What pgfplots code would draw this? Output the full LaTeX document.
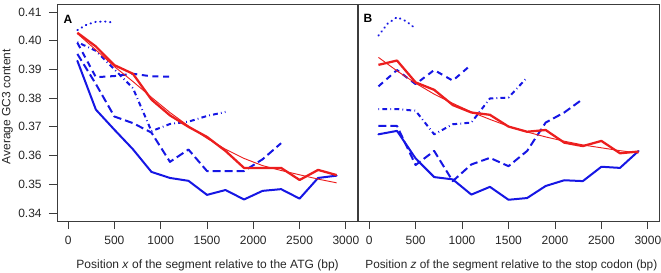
\documentclass[border=0pt]{standalone}
\usepackage{pgfplots}
\pgfplotsset{compat=1.18}
\usepackage{fontspec}
\setmainfont{Liberation Sans}

\definecolor{rblue}{RGB}{22,22,228}
\definecolor{rred}{RGB}{236,30,30}
\definecolor{frame}{RGB}{60,60,60}

\pgfplotsset{
  gcpanel/.style={
    scale only axis,
    width=225pt, height=162.75pt,
    xmin=-120, xmax=3120, ymin=0.3372, ymax=0.4128,
    axis line style={frame, line width=0.7pt},
    tick style={frame, line width=0.6pt},
    tick align=outside,
    major tick length=6pt,
    xtick={0,500,1000,1500,2000,2500,3000},
    xticklabels={0,500,1000,1500,2000,2500,3000},
    xtick pos=bottom,
    ticklabel style={font=\fontsize{9pt}{10pt}\selectfont, text=black!85},
    xticklabel style={yshift=-2pt},
    clip=false,
  },
  solidb/.style={rblue, line width=1.5pt, line join=round, line cap=round},
  longdashb/.style={rblue, line width=1.5pt, line join=round, dash pattern=on 6pt off 3pt},
  dashedb/.style={rblue, line width=1.5pt, line join=round, dash pattern=on 4.5pt off 3.5pt},
  dashdotb/.style={rblue, line width=1.5pt, line join=round, dash pattern=on 0.6pt off 2.4pt on 3.6pt off 2.4pt},
  dottedb/.style={rblue, line width=1.5pt, line join=round, line cap=round, dash pattern=on 0.4pt off 3.3pt},
  redthick/.style={rred, line width=1.7pt, line join=round},
  redfit/.style={rred, line width=0.7pt, line join=round},
}

\begin{document}
\begin{tikzpicture}

% ---- Panel A: segments measured from the ATG ----
\begin{axis}[gcpanel,
  at={(42.75pt,-165.75pt)}, anchor=south west,
  ytick={0.34,0.35,0.36,0.37,0.38,0.39,0.40,0.41},
  yticklabels={0.34,0.35,0.36,0.37,0.38,0.39,0.40,0.41},
  ytick pos=left,
  yticklabel style={xshift=-2pt},
]
\addplot[dottedb] coordinates {(100,0.4037) (200,0.4056) (300,0.4066) (400,0.4067) (500,0.4063)};
\addplot[dashedb] coordinates {(100,0.3993) (300,0.3873) (500,0.3877) (700,0.3885) (900,0.3876) (1100,0.3875)};
\addplot[dashdotb] coordinates {(100,0.3995) (300,0.3965) (500,0.3900) (700,0.3835) (900,0.3685) (1100,0.3710) (1300,0.3718) (1500,0.3738) (1700,0.3752)};
\addplot[longdashb] coordinates {(100,0.3954) (300,0.3849) (500,0.3736) (700,0.3713) (900,0.3680) (1100,0.3578) (1300,0.3621) (1500,0.3546) (1700,0.3546) (1900,0.3546) (2100,0.3587) (2300,0.3643)};
\addplot[solidb] coordinates {(100,0.3930) (300,0.3760) (500,0.3690) (700,0.3622) (900,0.3543) (1100,0.3522) (1300,0.3512) (1500,0.3463) (1700,0.3480) (1900,0.3447) (2100,0.3477) (2300,0.3483) (2500,0.3450) (2700,0.3522) (2900,0.3530)};
\addplot[redfit] coordinates {(100,0.4025) (300,0.3968) (500,0.3910) (700,0.3858) (900,0.3803) (1100,0.3750) (1300,0.3703) (1500,0.3660) (1700,0.3622) (1900,0.3590) (2100,0.3565) (2300,0.3548) (2500,0.3533) (2700,0.3518) (2900,0.3505)};
\addplot[redthick] coordinates {(100,0.4028) (300,0.3980) (500,0.3915) (700,0.3885) (900,0.3795) (1100,0.3740) (1300,0.3700) (1500,0.3665) (1700,0.3616) (1900,0.3557) (2100,0.3557) (2300,0.3557) (2500,0.3515) (2700,0.3550) (2900,0.3532)};
\end{axis}

% ---- Panel B: segments measured from the stop codon ----
\begin{axis}[gcpanel,
  at={(268.5pt,-165.75pt)}, anchor=south west,
  width=225.75pt,
  ytick=\empty,
]
\addplot[dottedb] coordinates {(100,0.4018) (200,0.4060) (300,0.4082) (400,0.4068) (500,0.4042)};
\addplot[dashedb] coordinates {(100,0.3841) (300,0.3898) (500,0.3849) (700,0.3898) (900,0.3861) (1100,0.3917)};
\addplot[dashdotb] coordinates {(100,0.3762) (300,0.3762) (500,0.3756) (700,0.3674) (900,0.3709) (1100,0.3715) (1300,0.3799) (1500,0.3802) (1700,0.3872)};
\addplot[longdashb] coordinates {(100,0.3703) (300,0.3703) (500,0.3567) (700,0.3616) (900,0.3511) (1100,0.3569) (1300,0.3592) (1500,0.3563) (1700,0.3616) (1900,0.3715) (2100,0.3750) (2300,0.3797)};
\addplot[solidb] coordinates {(100,0.3674) (300,0.3686) (500,0.3590) (700,0.3525) (900,0.3517) (1100,0.3464) (1300,0.3491) (1500,0.3446) (1700,0.3452) (1900,0.3494) (2100,0.3514) (2300,0.3511) (2500,0.3561) (2700,0.3557) (2900,0.3616)};
\addplot[redfit] coordinates {(100,0.3942) (300,0.3895) (500,0.3852) (700,0.3814) (900,0.3782) (1100,0.3752) (1300,0.3726) (1500,0.3702) (1700,0.3682) (1900,0.3665) (2100,0.3650) (2300,0.3637) (2500,0.3627) (2700,0.3617) (2900,0.3609)};
\addplot[redthick] coordinates {(100,0.3916) (300,0.3931) (500,0.3855) (700,0.3829) (900,0.3776) (1100,0.3750) (1300,0.3742) (1500,0.3701) (1700,0.3683) (1900,0.3689) (2100,0.3645) (2300,0.3633) (2500,0.3651) (2700,0.3608) (2900,0.3614)};
\end{axis}

% panel letters and axis titles
\node[font=\bfseries\fontsize{9pt}{10pt}\selectfont] at (51pt,-14.25pt) {A};
\node[font=\bfseries\fontsize{9pt}{10pt}\selectfont] at (276pt,-13.5pt) {B};
\node[anchor=base west, font=\fontsize{9pt}{10pt}\selectfont, text=black!85] at (53.8pt,-201pt)
  {Position \textit{x} of the segment relative to the ATG (bp)};
\node[anchor=base west, font=\fontsize{8.85pt}{10pt}\selectfont, text=black!85] at (270.5pt,-201pt)
  {Position \textit{z} of the segment relative to the stop codon (bp)};
\node[rotate=90, anchor=base, font=\fontsize{9pt}{10pt}\selectfont, text=black!85] at (7.8pt,-80pt)
  {Average GC3 content};

\pgfresetboundingbox
\path[use as bounding box] (0pt,0pt) rectangle (495.75pt,-204pt);
\end{tikzpicture}
\end{document}
